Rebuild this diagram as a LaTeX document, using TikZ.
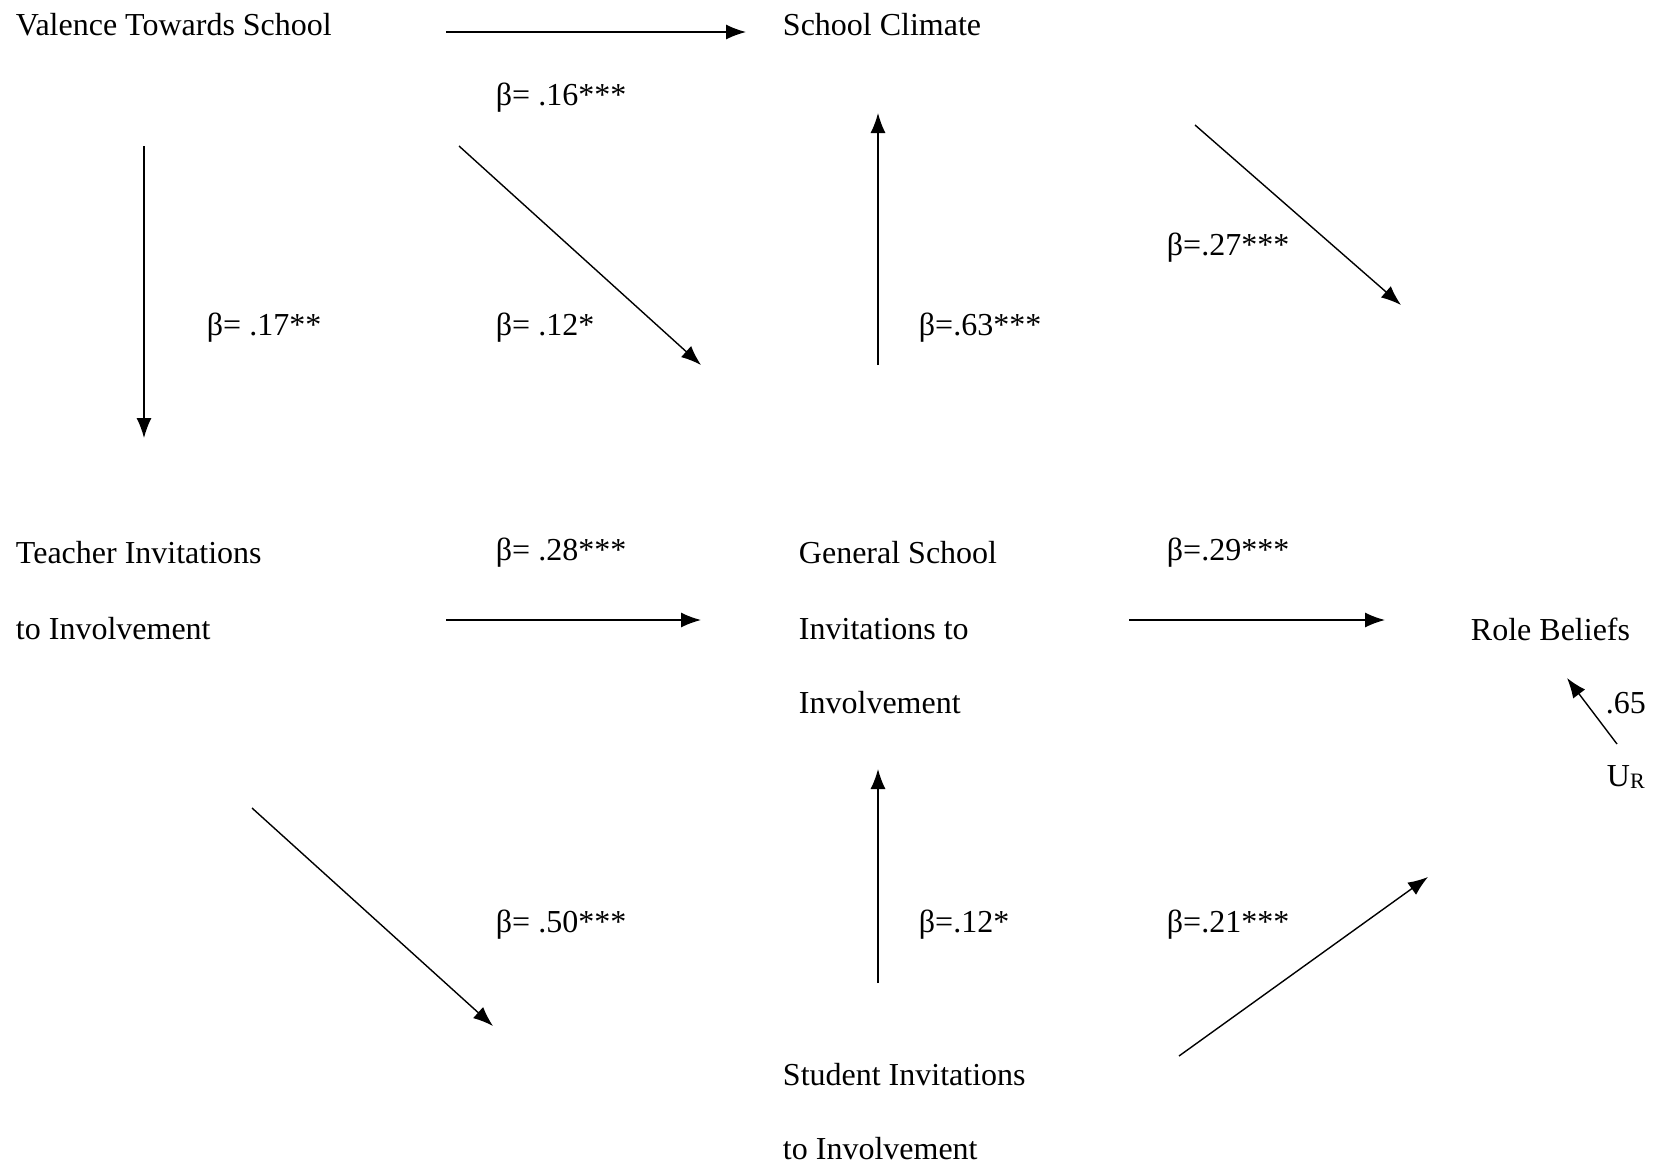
\documentclass[tikz,border=0pt]{standalone}
\usepackage{fontspec}
\setmainfont{Liberation Serif}
\usetikzlibrary{arrows.meta}

\begin{document}
\begin{tikzpicture}[x=1pt,y=1pt,yscale=-1,xscale=1,
  lbl/.style={anchor=west,inner sep=0.75pt,font=\fontsize{32}{38}\selectfont},
  path/.style={line width=1.4pt,-{Latex[length=20pt,width=15pt]}}]
\useasboundingbox (0,0) rectangle (1658,1168);

% Text Node
\node [lbl] (valence) at (15,25) {Valence Towards School};
% Text Node
\node [lbl] (climate) at (782,25) {School Climate};
% Text Node
\node [lbl] (teacher1) at (15,553) {Teacher Invitations};
\node [lbl] (teacher2) at (15,629) {to Involvement};
% Text Node
\node [lbl] (general1) at (798,553) {General School};
\node [lbl] (general2) at (798,629) {Invitations to};
\node [lbl] (general3) at (798,703) {Involvement};
% Text Node
\node [lbl] (role) at (1470,629) {Role Beliefs};
% Text Node
\node [lbl] (student1) at (782,1075) {Student Invitations};
\node [lbl] (student2) at (782,1149) {to Involvement};
% Text Node
\node [lbl] (ur) at (1606,777) {U{\fontsize{22}{24}\selectfont\raisebox{-2pt}{R}}};

% Text Node
\node [lbl] (b16) at (495,98) {β= .16***};
\node [lbl] (b17) at (206,328) {β= .17**};
\node [lbl] (b12a) at (495,328) {β= .12*};
\node [lbl] (b63) at (918,328) {β=.63***};
\node [lbl] (b27) at (1166,248) {β=.27***};
\node [lbl] (b28) at (495,553) {β= .28***};
\node [lbl] (b29) at (1166,553) {β=.29***};
\node [lbl] (e65) at (1605,703) {.65};
\node [lbl] (b50) at (495,925) {β= .50***};
\node [lbl] (b12b) at (918,925) {β=.12*};
\node [lbl] (b21) at (1166,925) {β=.21***};

% arrow ends
\coordinate (vs) at (446,32);   \coordinate (ve) at (746,32);
\coordinate (vts) at (144,146); \coordinate (vte) at (144,438);
\coordinate (vgs) at (459,146); \coordinate (vge) at (701,365);
\coordinate (gcs) at (878,365); \coordinate (gce) at (878,113);
\coordinate (crs) at (1195,125); \coordinate (cre) at (1401,305);
\coordinate (tgs) at (446,620); \coordinate (tge) at (701,620);
\coordinate (grs) at (1129,620); \coordinate (gre) at (1385,620);
\coordinate (urs) at (1617,744); \coordinate (ure) at (1567,678);
\coordinate (tss) at (252,808); \coordinate (tse) at (493,1026);
\coordinate (sgs) at (878,983); \coordinate (sge) at (878,769);
\coordinate (srs) at (1179,1056); \coordinate (sre) at (1428,877);

%Straight Lines
\draw [path] (vs) -- (ve);
\draw [path] (vts) -- (vte);
\draw [path] (vgs) -- (vge);
\draw [path] (gcs) -- (gce);
\draw [path] (crs) -- (cre);
\draw [path] (tgs) -- (tge);
\draw [path] (grs) -- (gre);
\draw [path] (urs) -- (ure);
\draw [path] (tss) -- (tse);
\draw [path] (sgs) -- (sge);
\draw [path] (srs) -- (sre);

\end{tikzpicture}
\end{document}
